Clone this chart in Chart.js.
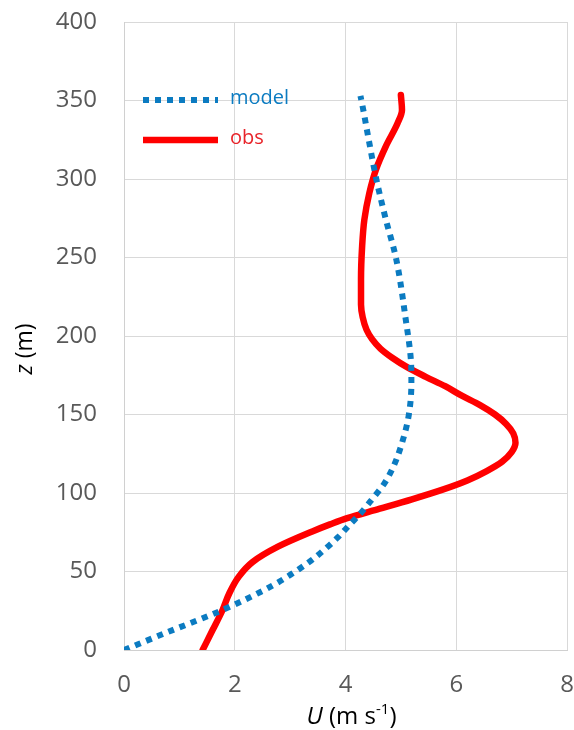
<!DOCTYPE html>
<html>
<head>
<meta charset="utf-8">
<script src="https://cdn.jsdelivr.net/npm/chart.js@4.4.0/dist/chart.umd.min.js"></script>
<style>
  html, body { margin: 0; padding: 0; background: #ffffff; }
  canvas { display: block; }
</style>
</head>
<body>
<canvas id="profile" width="574" height="730"></canvas>
<script>
// Wind speed profile: height z (m) against speed U (m/s)
const modelZ = [0, 11, 25.5, 41, 57, 64, 72, 80, 87, 96, 106, 118, 133, 149, 170, 185, 210, 250, 274, 301, 323, 346, 353];
const modelU = [0, 0.76, 1.78, 2.68, 3.38, 3.62, 3.87, 4.08, 4.27, 4.48, 4.70, 4.88, 5.03, 5.14, 5.19, 5.18, 5.09, 4.91, 4.73, 4.55, 4.43, 4.31, 4.27];

const obsZ = [0, 12.7, 25.5, 36, 46.6, 56, 65.8, 75.5, 80, 84, 90, 96, 102, 108, 114, 120, 126, 132, 138, 144, 150, 156, 162, 168, 174, 180, 186, 192, 198, 204, 212, 220, 236, 257, 274, 291, 306, 321, 335.5, 344, 353.5];
const obsU = [1.42, 1.6, 1.78, 1.9, 2.07, 2.32, 2.78, 3.4, 3.72, 4.03, 4.62, 5.2, 5.74, 6.2, 6.55, 6.83, 7.0, 7.07, 7.03, 6.9, 6.7, 6.43, 6.1, 5.8, 5.45, 5.12, 4.85, 4.63, 4.48, 4.38, 4.31, 4.28, 4.28, 4.30, 4.34, 4.43, 4.55, 4.73, 4.94, 5.02, 5.0];

const xTicks = [0, 2, 4, 6, 8];
const yTicks = [0, 50, 100, 150, 200, 250, 300, 350, 400];

const seriesNames = ['model', 'obs'];
const blue = '#0B7BC1';
const red = '#FF0000';
const redText = '#E8242A';
const tickColor = '#595959';
const fontFamily = '"Open Sans", "Noto Sans", sans-serif';

const toPoints = (us, zs) => us.map((u, i) => ({ x: u, y: zs[i] }));

// Axis titles with italic symbols and a superscript exponent
const axisTitles = {
  id: 'axisTitles',
  afterDraw(chart) {
    const ctx = chart.ctx;
    const area = chart.chartArea;
    ctx.save();
    ctx.fillStyle = '#000000';
    ctx.textBaseline = 'alphabetic';

    // x title: U (m s-1)
    const big = '24px ' + fontFamily;
    const bigIt = 'italic 24px ' + fontFamily;
    const sup = '15px ' + fontFamily;
    const parts = [
      { t: 'U', f: bigIt, dy: 0 },
      { t: ' (m s', f: big, dy: 0 },
      { t: '-1', f: sup, dy: -10 },
      { t: ')', f: big, dy: 0 }
    ];
    let total = 0;
    parts.forEach(p => { ctx.font = p.f; p.w = ctx.measureText(p.t).width; total += p.w; });
    let x = (area.left + area.right) / 2 + 6 - total / 2;
    const baseY = 724;
    parts.forEach(p => {
      ctx.font = p.f;
      ctx.fillText(p.t, x, baseY + p.dy);
      x += p.w;
    });

    // y title: z (m), rotated
    ctx.translate(32, 349);
    ctx.rotate(-Math.PI / 2);
    const yparts = [
      { t: 'z', f: 'italic 23px ' + fontFamily },
      { t: ' (m)', f: '23px ' + fontFamily }
    ];
    let yt = 0;
    yparts.forEach(p => { ctx.font = p.f; p.w = ctx.measureText(p.t).width; yt += p.w; });
    let yx = -yt / 2;
    yparts.forEach(p => {
      ctx.font = p.f;
      ctx.fillText(p.t, yx, 0);
      yx += p.w;
    });
    ctx.restore();
  }
};

// Legend drawn inside the plot, upper left
const insideLegend = {
  id: 'insideLegend',
  afterDatasetsDraw(chart) {
    const ctx = chart.ctx;
    const area = chart.chartArea;
    const x0 = area.left + 19;
    const x1 = x0 + 75;
    const rows = [
      { y: 100, ds: chart.data.datasets[0], text: blue },
      { y: 140, ds: chart.data.datasets[1], text: redText }
    ];
    ctx.save();
    rows.forEach(r => {
      ctx.beginPath();
      ctx.strokeStyle = r.ds.borderColor;
      ctx.lineWidth = r.ds.borderWidth;
      ctx.lineCap = 'butt';
      ctx.setLineDash(r.ds.borderDash || []);
      ctx.moveTo(x0, r.y);
      ctx.lineTo(x1, r.y);
      ctx.stroke();
      ctx.setLineDash([]);
      ctx.fillStyle = r.text;
      ctx.font = '20px ' + fontFamily;
      ctx.textBaseline = 'middle';
      ctx.fillText(r.ds.label, x1 + 12, r.y - 2);
    });
    ctx.restore();
  }
};

new Chart(document.getElementById('profile'), {
  type: 'line',
  data: {
    datasets: [
      {
        label: seriesNames[0],
        data: toPoints(modelU, modelZ),
        borderColor: blue,
        borderWidth: 6,
        borderDash: [6, 6],
        borderCapStyle: 'butt',
        cubicInterpolationMode: 'monotone',
        pointRadius: 0,
        fill: false
      },
      {
        label: seriesNames[1],
        data: toPoints(obsU, obsZ),
        borderColor: red,
        borderWidth: 6.5,
        borderCapStyle: 'round',
        borderJoinStyle: 'round',
        cubicInterpolationMode: 'monotone',
        pointRadius: 0,
        fill: false
      }
    ]
  },
  options: {
    indexAxis: 'y',
    responsive: false,
    animation: false,
    devicePixelRatio: 1,
    layout: { padding: { left: 0, right: 7, top: 22, bottom: 0 } },
    plugins: {
      legend: { display: false },
      tooltip: { enabled: false }
    },
    scales: {
      x: {
        type: 'linear',
        position: 'bottom',
        min: 0,
        max: 8,
        afterBuildTicks: s => { s.ticks = xTicks.map(v => ({ value: v })); },
        afterFit: s => { s.height = 80; s.paddingLeft = 0; s.paddingRight = 0; },
        ticks: {
          color: tickColor,
          font: { family: fontFamily, size: 24 },
          padding: 21
        },
        grid: { color: '#d9d9d9', lineWidth: 1, drawTicks: false },
        border: { color: '#d0d0d0' }
      },
      y: {
        type: 'linear',
        position: 'left',
        min: 0,
        max: 400,
        afterBuildTicks: s => { s.ticks = yTicks.map(v => ({ value: v })); },
        afterFit: s => { s.width = 124; s.paddingTop = 0; s.paddingBottom = 0; },
        ticks: {
          color: tickColor,
          font: { family: fontFamily, size: 24 },
          padding: 27
        },
        grid: { color: '#d9d9d9', lineWidth: 1, drawTicks: false },
        border: { color: '#d0d0d0' }
      }
    }
  },
  plugins: [axisTitles, insideLegend]
});
</script>
</body>
</html>
